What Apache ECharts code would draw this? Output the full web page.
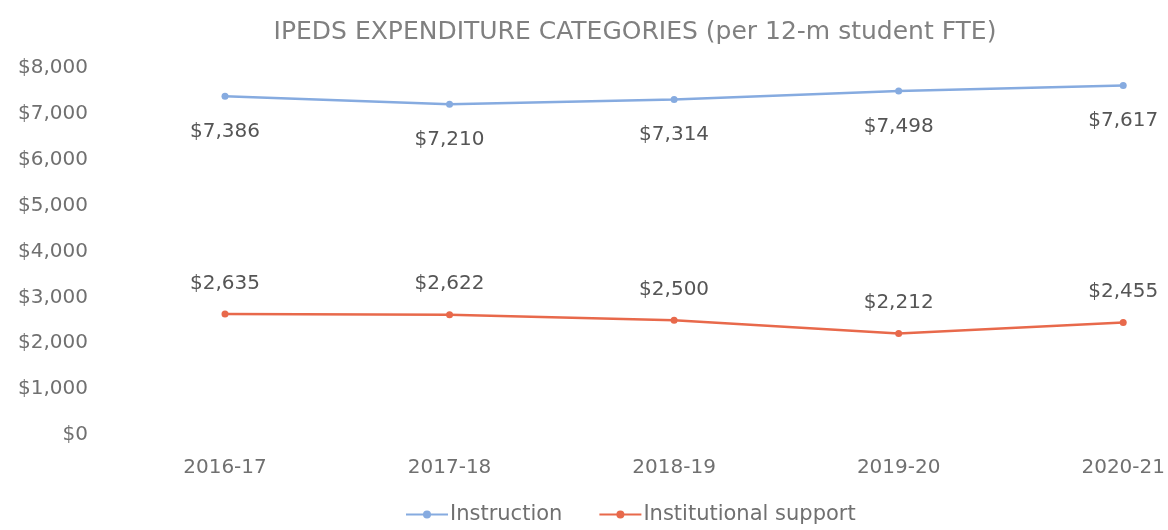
<!DOCTYPE html>
<html>
<head>
<meta charset="utf-8">
<script src="https://cdn.jsdelivr.net/npm/echarts@6/dist/echarts.min.js"></script>
<style>
  html, body { margin: 0; padding: 0; background: #fff; }
  #chart { width: 1168px; height: 530px; }
</style>
</head>
<body>
<div id="chart"></div>
<script>
// Academic years on the category axis
const years = ['2016-17', '2017-18', '2018-19', '2019-20', '2020-21'];
// Expenditure per 12-month student FTE, in dollars
const instruction = [7386, 7210, 7314, 7498, 7617];
const institutionalSupport = [2635, 2622, 2500, 2212, 2455];
// Value axis ticks
const yMin = 0, yMax = 8000, yStep = 1000;

const fmt = v => '$' + Math.round(v).toLocaleString('en-US');
const FONT = '"DejaVu Sans", "Open Sans", sans-serif';
const BLUE = '#86abe0';
const ORANGE = '#e8694b';

const chart = echarts.init(document.getElementById('chart'));
chart.setOption({
  backgroundColor: '#ffffff',
  animation: false,
  title: {
    text: 'IPEDS EXPENDITURE CATEGORIES (per 12-m student FTE)',
    left: 630, top: 15, textAlign: 'center',
    textStyle: { fontFamily: FONT, fontSize: 25, fontWeight: 'normal', color: '#808080' }
  },
  legend: {
    bottom: 0, left: 400, itemGap: 36,
    itemWidth: 42, itemHeight: 10,
    textStyle: { fontFamily: FONT, fontSize: 21, color: '#707070', padding: [0, 0, 0, -3] },
    data: ['Instruction', 'Institutional support']
  },
  grid: { left: 225, right: 44, top: 68, bottom: 95, containLabel: false },
  xAxis: {
    type: 'category', data: years, boundaryGap: false,
    axisLine: { show: false }, axisTick: { show: false },
    axisLabel: { fontFamily: FONT, fontSize: 20, color: '#707070', margin: 23 }
  },
  yAxis: {
    type: 'value', min: yMin, max: yMax, interval: yStep,
    splitLine: { show: false }, axisLine: { show: false }, axisTick: { show: false },
    axisLabel: { fontFamily: FONT, fontSize: 20, color: '#707070', margin: 137, formatter: fmt }
  },
  series: [
    {
      name: 'Instruction', type: 'line', data: instruction,
      symbol: 'circle', symbolSize: 7,
      lineStyle: { color: BLUE, width: 2.5 }, itemStyle: { color: BLUE },
      label: { show: true, position: 'bottom', distance: 22, formatter: p => fmt(p.value),
        fontFamily: FONT, fontSize: 20, color: '#555555' }
    },
    {
      name: 'Institutional support', type: 'line', data: institutionalSupport,
      symbol: 'circle', symbolSize: 7,
      lineStyle: { color: ORANGE, width: 2.5 }, itemStyle: { color: ORANGE },
      label: { show: true, position: 'top', distance: 17, formatter: p => fmt(p.value),
        fontFamily: FONT, fontSize: 20, color: '#555555' }
    }
  ]
});
</script>
</body>
</html>
